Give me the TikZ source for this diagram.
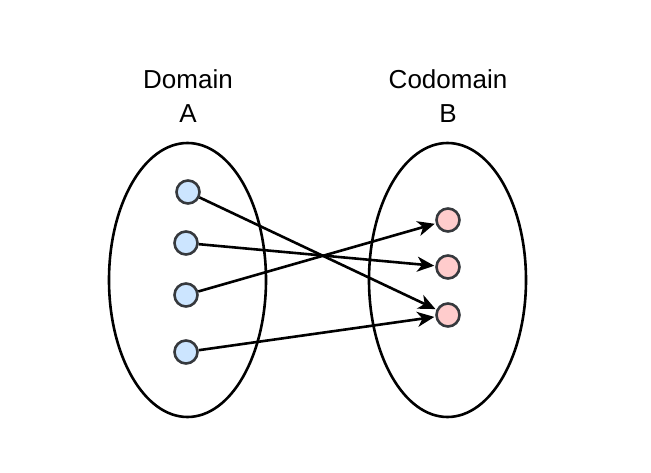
\documentclass[tikz,border=0pt]{standalone}
\usepackage{fontspec}
\setmainfont{Liberation Sans}
\usetikzlibrary{arrows.meta,shapes.geometric}
\definecolor{bluefill}{HTML}{CCE5FF}
\definecolor{redfill}{HTML}{FFCCCC}
\definecolor{dotline}{HTML}{36393D}
\begin{document}
\begin{tikzpicture}[x=1pt,y=-1pt,
  setbox/.style={draw=black,line width=2.6pt,ellipse,minimum width=157pt,minimum height=274pt,inner sep=0pt},
  elem/.style={circle,draw=dotline,line width=2.6pt,minimum size=23pt,inner sep=0pt},
  dom/.style={elem,fill=bluefill},
  cod/.style={elem,fill=redfill},
  lbl/.style={font=\fontsize{26}{34}\selectfont,align=center},
  conn/.style={draw=black,line width=2.6pt,-{Stealth[length=17pt,width=15pt,inset=5pt]},shorten >=1pt}]
\useasboundingbox (0,0) rectangle (651,473);
\node[setbox] (A) at (187.5,280) {};
\node[setbox] (B) at (447.5,280) {};
\node[lbl] (la) at (188,96) {Domain\\A};
\node[lbl] (lb) at (448,96) {Codomain\\B};
\node[dom] (a1) at (188,192) {};
\node[dom] (a2) at (186,243) {};
\node[dom] (a3) at (186,295) {};
\node[dom] (a4) at (186,352) {};
\node[cod] (b1) at (448,220) {};
\node[cod] (b2) at (448,267) {};
\node[cod] (b3) at (448,315) {};
\draw[conn] (a1) -- (b3);
\draw[conn] (a2) -- (b2);
\draw[conn] (a3) -- (b1);
\draw[conn] (a4) -- (b3);
\end{tikzpicture}
\end{document}
